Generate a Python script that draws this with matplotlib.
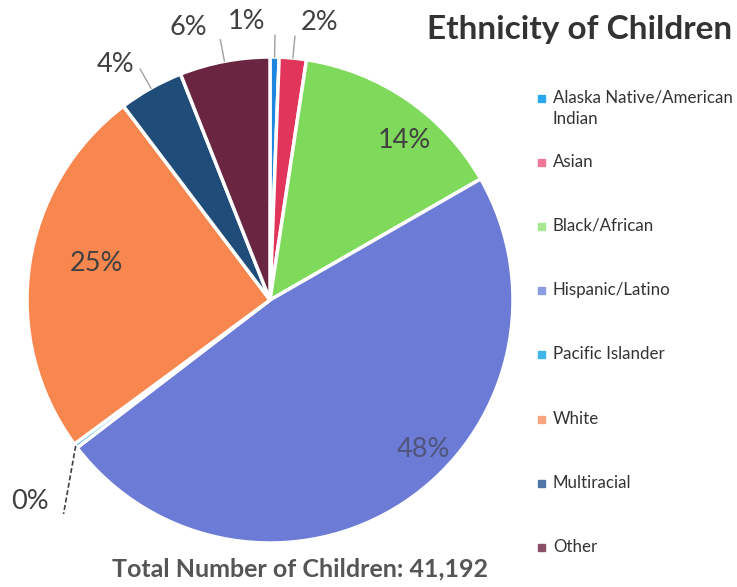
import numpy as np
import matplotlib.pyplot as plt
from matplotlib.patches import Rectangle

# data (clockwise from 12 o'clock)
groups = ['Alaska Native/American\nIndian', 'Asian', 'Black/African', 'Hispanic/Latino',
          'Pacific Islander', 'White', 'Multiracial', 'Other']
shares = [0.6, 1.8, 14.3, 47.9, 0.3, 24.8, 4.3, 6.0]
colors = ['#1f86e0', '#e2355c', '#7fda5c', '#6b7bd6', '#3fb6ea', '#f8874f', '#1f4c78', '#6a2540']
legend_colors = ['#2aa8f0', '#f07896', '#a8e890', '#8c9ce0', '#3fb6ea', '#f8a47c', '#4f74a8', '#8a5068']
total_children = '41,192'

# label placement: radius and angle shift (deg) from each wedge's middle
label_r = [1.15, 1.16, 0.86, 0.88, 1.29, 0.73, 1.16, 1.17]
label_shift = [5.8, -4.8, -5.8, 12.0, 3.0, -3.7, 4.0, 6.0]
outside = [True, True, False, False, True, False, True, True]

W, H = 737, 587
fig = plt.figure(figsize=(W / 100, H / 100), dpi=100)
plt.rcParams['font.family'] = ['Lato', 'DejaVu Sans']

cx, cy, rad = 270, 300, 243
ax = fig.add_axes([(cx - rad) / W, (H - cy - rad) / H, 2 * rad / W, 2 * rad / H])
wedges, _ = ax.pie(shares, colors=colors, startangle=90, counterclock=False, radius=1,
                   wedgeprops=dict(edgecolor='white', linewidth=2.5))
ax.set_xlim(-1, 1)
ax.set_ylim(-1, 1)
ax.set_axis_off()

for i, w in enumerate(wedges):
    mid = np.deg2rad((w.theta1 + w.theta2) / 2)
    ang = mid + np.deg2rad(label_shift[i])
    tx, ty = label_r[i] * np.cos(ang), label_r[i] * np.sin(ang)
    txt = f'{shares[i]:.0f}%'
    tcol = '#50557a' if i == 3 else '#404040'
    if outside[i]:
        ex, ey = np.cos(mid), np.sin(mid)
        if groups[i] == 'Pacific Islander':
            ax.plot([ex, ex - 0.05], [ey, ey - 0.28], color='#404040', lw=1.2,
                    ls=(0, (3, 1.5)), clip_on=False)
        else:
            ax.plot([ex, 1.09 * np.cos(mid)], [ey, 1.09 * np.sin(mid)],
                    color='#a0a0a0', lw=1.0, clip_on=False)
    ax.text(tx, ty, txt, ha='center', va='center', fontsize=19.5, color=tcol)

fig.text(580 / W, 1 - 30 / H, 'Ethnicity of Children', ha='center', va='center',
         fontsize=24, fontweight='bold', color='#333333')
fig.text(300 / W, 1 - 569 / H, f'Total Number of Children: {total_children}',
         ha='center', va='center', fontsize=18, fontweight='bold', color='#555555')

# legend
y0, step = 98, 64.2
for i, g in enumerate(groups):
    y = y0 + i * step
    fig.patches.append(Rectangle(((538) / W, 1 - (y + 3.5) / H), 7 / W, 7 / H,
                                 transform=fig.transFigure, color=legend_colors[i]))
    fig.text(553 / W, 1 - (y - 8.5) / H, g, ha='left', va='top', fontsize=12.2,
             color='#333333', linespacing=1.45)

fig.savefig('out.png', dpi=100)
